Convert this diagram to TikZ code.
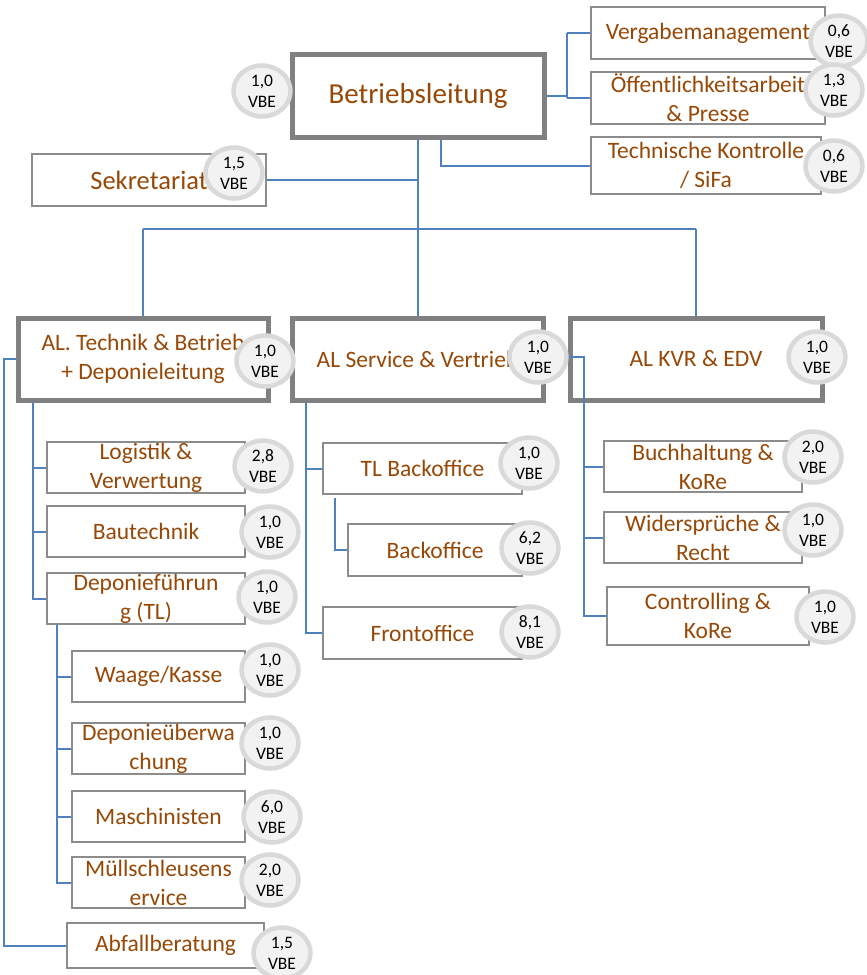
\documentclass[tikz,border=0pt]{standalone}
\usepackage{fontspec}
\setmainfont{Carlito}
\usetikzlibrary{shapes.geometric}
\definecolor{txtbrown}{HTML}{974806}
\definecolor{boxgray}{HTML}{8C8C8C}
\definecolor{thickgray}{HTML}{808080}
\definecolor{badgeline}{HTML}{D9D9D9}
\definecolor{badgefill}{HTML}{F2F2F2}
\definecolor{lineblue}{HTML}{4F81BD}
\newcommand{\obox}[7]{\node[#6, minimum width={(#4-#2)*1pt}, minimum height={(#5-#3)*1pt}] (#1) at ({(#2+#4)/2},{(#3+#5)/2}) {#7};}
\newcommand{\vbe}[4]{\node[badge] (#1) at (#2,#3) {#4\\VBE};}
\begin{document}
\begin{tikzpicture}[x=1pt,y=-1pt,
  thinbox/.style={rectangle, draw=boxgray, line width=1.5pt, fill=white, inner sep=0pt, align=center, text=txtbrown, font=\fontsize{23.5}{29}\selectfont},
  thickbox/.style={thinbox, draw=thickgray, line width=5pt},
  badge/.style={ellipse, draw=badgeline, line width=4.5pt, fill=badgefill, inner sep=0pt, minimum width=57pt, minimum height=51pt, align=center, text=black, font=\fontsize{17.5}{21}\selectfont},
  conn/.style={draw=lineblue, line width=2pt}]
\useasboundingbox (0,0) rectangle (867,975);
% boxes
\obox{bl}{292}{54}{544}{137}{thickbox, font=\fontsize{29}{34}\selectfont}{Betriebsleitung}
\obox{sek}{32}{154}{266}{206}{thinbox, font=\fontsize{26.5}{32}\selectfont}{Sekretariat}
\obox{verg}{591}{7}{825}{59}{thinbox}{Vergabemanagement}
\obox{oeff}{591}{72}{825}{124}{thinbox}{Öffentlichkeitsarbeit\\\& Presse}
\obox{tech}{591}{137}{821}{194}{thinbox}{Technische Kontrolle\\/ SiFa}
\obox{alt}{18}{318}{268}{400}{thickbox}{AL. Technik \& Betrieb\\+ Deponieleitung}
\obox{als}{292}{318}{543}{400}{thickbox}{AL Service \& Vertrieb}
\obox{alk}{570}{318}{822}{400}{thickbox}{AL KVR \& EDV}
\obox{log}{47}{442}{245}{493}{thinbox}{Logistik \&\\Verwertung}
\obox{bau}{47}{506}{245}{557}{thinbox}{Bautechnik}
\obox{dep}{47}{573}{245}{624}{thinbox}{Deponieführun\\g (TL)}
\obox{waa}{72}{651}{245}{702}{thinbox}{Waage/Kasse}
\obox{dpu}{72}{723}{245}{774}{thinbox}{Deponieüberwa\\chung}
\obox{mas}{72}{791}{245}{842}{thinbox}{Maschinisten}
\obox{mue}{72}{857}{245}{908}{thinbox}{Müllschleusens\\ervice}
\obox{abf}{67}{923}{264}{968}{thinbox}{Abfallberatung}
\obox{tlb}{323}{443}{522}{494}{thinbox}{TL Backoffice}
\obox{bo}{348}{524}{522}{576}{thinbox}{Backoffice}
\obox{fo}{323}{607}{522}{659}{thinbox}{Frontoffice}
\obox{buc}{604}{441}{802}{492}{thinbox}{Buchhaltung \&\\KoRe}
\obox{wid}{604}{512}{802}{563}{thinbox}{Widersprüche \&\\Recht}
\obox{con}{607}{587}{809}{645}{thinbox}{Controlling \&\\KoRe}
% connectors
\coordinate (busC) at (418,229);
\coordinate (rj) at (567,96);
\coordinate (lft) at (4,359);
\draw[conn] (bl.south) -- (busC);
\draw[conn] (alt.north |- busC) -- (alk.north |- busC);
\draw[conn] (alt.north |- busC) -- (alt.north);
\draw[conn] (als.north |- busC) -- (als.north);
\draw[conn] (alk.north |- busC) -- (alk.north);
\draw[conn] (sek.east) -- (sek.east -| busC);
\draw[conn] (bl.east) -- (bl.east -| rj);
\draw[conn] (verg.west -| rj) -- (oeff.west -| rj);
\draw[conn] (verg.west -| rj) -- (verg.west);
\draw[conn] (oeff.west -| rj) -- (oeff.west);
\draw[conn] ([xshift=23pt]bl.south) |- (tech.west);
\draw[conn] (alt.west) -- (lft) |- (abf.west);
\coordinate (ta) at ([xshift=17pt]alt.south west);
\draw[conn] (ta) |- (dep.west);
\draw[conn] (ta |- log.west) -- (log.west);
\draw[conn] (ta |- bau.west) -- (bau.west);
\coordinate (td) at ([xshift=11pt]dep.south west);
\draw[conn] (td) |- (mue.west);
\draw[conn] (td |- waa.west) -- (waa.west);
\draw[conn] (td |- dpu.west) -- (dpu.west);
\draw[conn] (td |- mas.west) -- (mas.west);
\coordinate (ts) at ([xshift=16pt]als.south west);
\draw[conn] (ts) |- (fo.west);
\draw[conn] (ts |- tlb.west) -- (tlb.west);
\draw[conn] ([xshift=13pt,yshift=-3pt]tlb.south west) |- (bo.west);
\coordinate (tk) at ([xshift=16pt,yshift=2pt]alk.west);
\draw[conn] ([yshift=2pt]alk.west) -- (tk) |- (con.west);
\draw[conn] (tk |- buc.west) -- (buc.west);
\draw[conn] (tk |- wid.west) -- (wid.west);
% badges
\vbe{b1}{262}{91}{1,0}
\vbe{b2}{234}{173}{1,5}
\vbe{b3}{839}{41}{0,6}
\vbe{b4}{834}{90}{1,3}
\vbe{b5}{834}{166}{0,6}
\vbe{b6}{265}{361}{1,0}
\vbe{b7}{538}{357}{1,0}
\vbe{b8}{817}{357}{1,0}
\vbe{b9}{263}{466}{2,8}
\vbe{b10}{270}{532}{1,0}
\vbe{b11}{267}{597}{1,0}
\vbe{b12}{270}{670}{1,0}
\vbe{b13}{270}{743}{1,0}
\vbe{b14}{272}{817}{6,0}
\vbe{b15}{270}{880}{2,0}
\vbe{b16}{282}{953}{1,5}
\vbe{b17}{529}{463}{1,0}
\vbe{b18}{530}{548}{6,2}
\vbe{b19}{530}{632}{8,1}
\vbe{b20}{813}{457}{2,0}
\vbe{b21}{813}{530}{1,0}
\vbe{b22}{825}{617}{1,0}
\end{tikzpicture}
\end{document}
